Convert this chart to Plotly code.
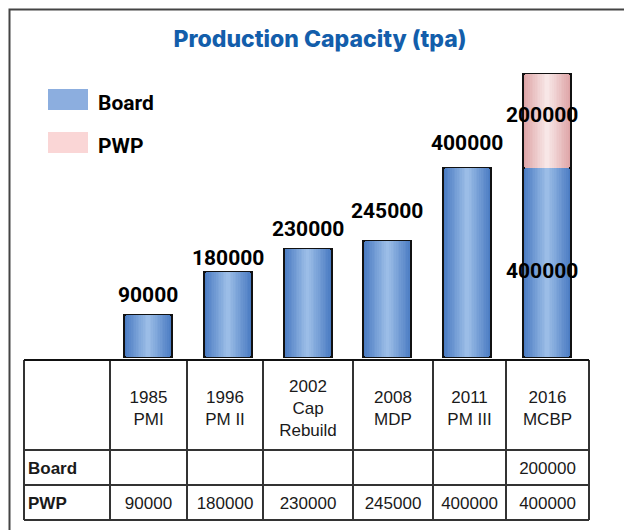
import plotly.graph_objects as go

# ---- data -------------------------------------------------------------
categories = ["1985<br>PMI", "1996<br>PM II", "2002<br>Cap<br>Rebuild",
              "2008<br>MDP", "2011<br>PM III", "2016<br>MCBP"]
board = [90000, 180000, 230000, 245000, 400000, 400000]
pwp = [None, None, None, None, None, 200000]

# rows of the data table printed under the chart
table_row_names = ["Board", "PWP"]
table_rows = [pwp, board]

# ---- styling / geometry ------------------------------------------------
W, H = 624, 530
BAR_WIDTH = 0.6
N_LAYERS = 14
BLUE_EDGE, BLUE_MID = (74, 123, 194), (155, 189, 231)
PINK_EDGE, PINK_MID = (222, 164, 166), (248, 231, 231)
LEGEND_BLUE, LEGEND_PINK = "#8caedf", "#fad6d6"
TITLE_BLUE = "#135eab"
LABEL_FONT = dict(family="Roboto", size=21, color="#000000", weight=700)
TABLE_FONT = dict(family="Liberation Sans, Arial", size=17, color="#1a1a1a")
LINE = "#333333"

# pixel grid of the table (x: column edges, y: row edges)
col_edges = [24, 110, 187, 263, 353, 433, 506, 589]
row_edges = [360, 450, 485, 520]

# vertical pixel offsets of the value labels
label_shift = [20, 14, 20, 30, 25]


def mix(a, b, t):
    return "rgb(%d,%d,%d)" % tuple(round(a[i] + (b[i] - a[i]) * t) for i in range(3))


xs = list(range(len(categories)))
fig = go.Figure()

# cylinder-like shading: concentric bars getting narrower and lighter
for k in range(N_LAYERS):
    t = k / (N_LAYERS - 1)
    w = BAR_WIDTH * (1 - k / N_LAYERS)
    outline = dict(color="#111111", width=2) if k == 0 else dict(width=0)
    fig.add_trace(go.Bar(x=xs, y=board, width=w, marker=dict(color=mix(BLUE_EDGE, BLUE_MID, t), line=outline),
                         showlegend=False, hoverinfo="skip"))
    fig.add_trace(go.Bar(x=xs, y=pwp, base=board, width=w,
                         marker=dict(color=mix(PINK_EDGE, PINK_MID, t), line=outline),
                         showlegend=False, hoverinfo="skip"))

# value labels
for i in range(5):
    fig.add_annotation(x=xs[i], y=board[i], text=str(board[i]), showarrow=False,
                       yanchor="middle", yshift=label_shift[i], font=LABEL_FONT)
fig.add_annotation(x=xs[5], y=board[5] / 2, text=str(board[5]), showarrow=False,
                   yanchor="middle", yshift=-8, xshift=-5, font=LABEL_FONT)
fig.add_annotation(x=xs[5], y=board[5] + pwp[5] / 2, text=str(pwp[5]), showarrow=False,
                   yanchor="middle", yshift=6, xshift=-5, font=LABEL_FONT)

# ---- data table (drawn on a pixel-scaled second axis pair) -------------
cx = [(col_edges[j] + col_edges[j + 1]) / 2 for j in range(len(col_edges) - 1)]
cy = [(row_edges[r] + row_edges[r + 1]) / 2 for r in range(len(row_edges) - 1)]

fig.add_trace(go.Scatter(x=cx[1:], y=[cy[0] + 5] * len(categories), text=categories,
                         mode="text", textposition="middle center", textfont=TABLE_FONT,
                         xaxis="x2", yaxis="y2", showlegend=False, hoverinfo="skip"))
fig.add_trace(go.Scatter(x=[col_edges[0] + 4] * len(table_row_names), y=[c + 2 for c in cy[1:]],
                         text=["<b>%s</b>" % n for n in table_row_names],
                         mode="text", textposition="middle right", textfont=TABLE_FONT,
                         xaxis="x2", yaxis="y2", showlegend=False, hoverinfo="skip"))
for r, row in enumerate(table_rows):
    fig.add_trace(go.Scatter(x=cx[1:], y=[cy[r + 1] + 2] * len(row),
                             text=["" if v is None else str(v) for v in row],
                             mode="text", textposition="middle center", textfont=TABLE_FONT,
                             xaxis="x2", yaxis="y2", showlegend=False, hoverinfo="skip"))

shapes = []
for xe in col_edges:
    shapes.append(dict(type="line", xref="x2", yref="y2", x0=xe, x1=xe,
                       y0=row_edges[0], y1=row_edges[-1], line=dict(color=LINE, width=2)))
for k, ye in enumerate(row_edges):
    shapes.append(dict(type="line", xref="x2", yref="y2", x0=col_edges[0], x1=col_edges[-1],
                       y0=ye, y1=ye, line=dict(color="#111111" if k == 0 else LINE, width=2)))

# outer frame (left and top edges)
shapes.append(dict(type="path", xref="x2", yref="y2", path="M 9.5 530 L 9.5 9.5 L 624 9.5",
                   line=dict(color="#444444", width=2)))

# legend swatches
shapes.append(dict(type="rect", xref="x2", yref="y2", x0=48, x1=88, y0=89, y1=110,
                   fillcolor=LEGEND_BLUE, line=dict(width=0)))
shapes.append(dict(type="rect", xref="x2", yref="y2", x0=48, x1=88, y0=132, y1=153,
                   fillcolor=LEGEND_PINK, line=dict(width=0)))
for name, yy in [("Board", 103), ("PWP", 146)]:
    fig.add_annotation(xref="x2", yref="y2", x=96, y=yy, text=name, showarrow=False,
                       xanchor="left", yanchor="middle",
                       font=dict(family="Roboto", size=21, color="#000000", weight=700))

fig.update_layout(
    width=W, height=H,
    margin=dict(l=0, r=0, t=0, b=0),
    paper_bgcolor="white", plot_bgcolor="rgba(0,0,0,0)",
    barmode="overlay", bargap=0,
    shapes=shapes,
    title=dict(text="Production Capacity (tpa)", x=320 / W, xanchor="center",
               y=1 - 38.5 / H, yanchor="middle", yref="container",
               font=dict(family="Inter", size=23, color=TITLE_BLUE, weight=800)),
    xaxis=dict(domain=[0, 1], range=[-148 / 79.8, (W - 148) / 79.8], visible=False),
    yaxis=dict(domain=[0, 1], range=[-(H - 357) * 2119.8, 357 * 2119.8], visible=False),
    xaxis2=dict(domain=[0, 1], range=[0, W], visible=False, anchor="y2", overlaying="x"),
    yaxis2=dict(domain=[0, 1], range=[H, 0], visible=False, anchor="x2", overlaying="y"),
)

fig.write_html("out.html")
